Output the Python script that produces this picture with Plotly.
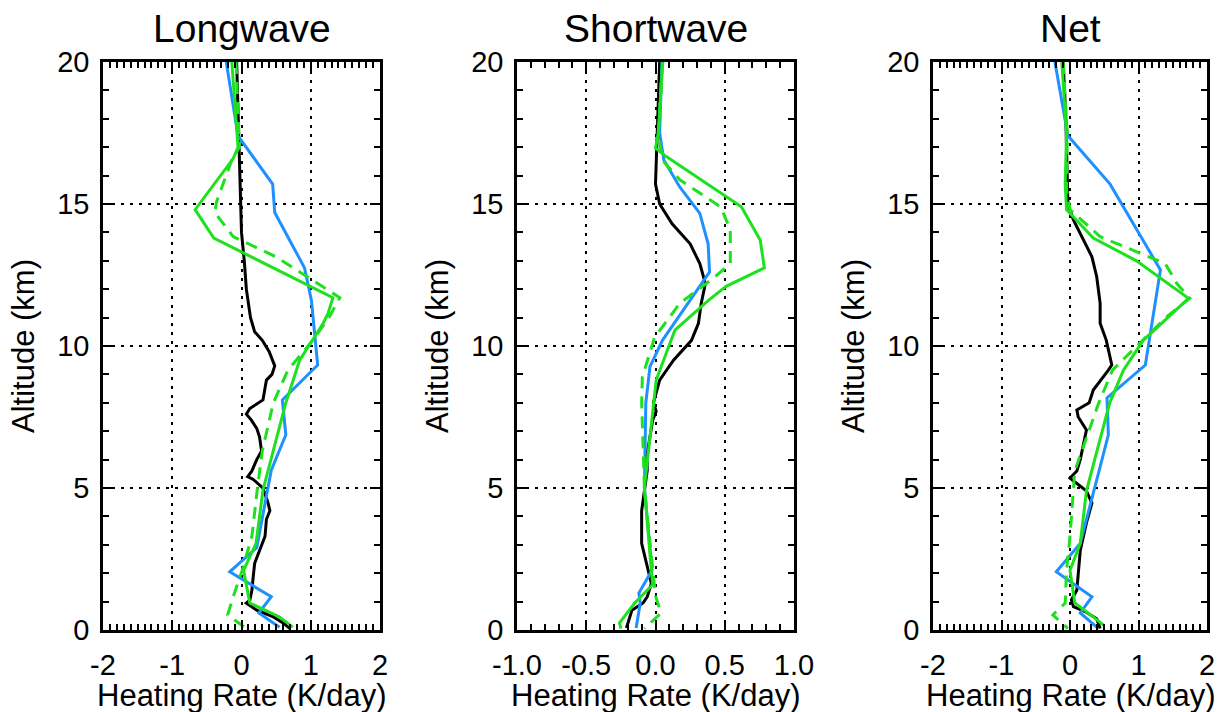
import plotly.graph_objects as go

# ---------------- data ----------------
panel_titles = ["Longwave", "Shortwave", "Net"]
x_label = "Heating Rate (K/day)"
y_label = "Altitude (km)"

x_ranges = [[-2, 2], [-1, 1], [-2, 2]]
x_tickvals = [[-2, -1, 0, 1, 2], [-1.0, -0.5, 0.0, 0.5, 1.0], [-2, -1, 0, 1, 2]]
x_ticktext = [["-2", "-1", "0", "1", "2"],
              ["-1.0", "-0.5", "0.0", "0.5", "1.0"],
              ["-2", "-1", "0", "1", "2"]]
y_tickvals = [0, 5, 10, 15, 20]
y_ticktext = ["0", "5", "10", "15", "20"]

# Longwave
lw_obs_alt = [20, 19, 18, 17, 16, 15, 14, 13, 12, 11, 10.5, 10.2, 9.8, 9.3, 9.0, 8.8, 8.4, 8.1, 7.8,
              7.6, 7.4, 7.1, 6.8, 6.3, 6.0, 5.6, 5.4, 5.3, 5.0, 4.5, 4.2, 3.9, 3.3, 2.8, 2.35, 1.9,
              1.4, 1.05, 0.95, 0.7, 0.46, 0.25, 0.05]
lw_obs_x = [-0.07, -0.06, -0.05, -0.04, -0.03, -0.02, 0.0, 0.04, 0.07, 0.13, 0.19, 0.30, 0.40, 0.48,
            0.44, 0.36, 0.33, 0.31, 0.12, 0.07, 0.14, 0.22, 0.26, 0.29, 0.22, 0.15, 0.09, 0.17, 0.31,
            0.38, 0.41, 0.36, 0.34, 0.26, 0.19, 0.17, 0.15, 0.12, 0.07, 0.22, 0.46, 0.60, 0.70]
lw_blue_alt = [20, 17.4, 15.7, 14.7, 12.75, 11.6, 9.33, 8.1, 6.87, 5.63, 2.9, 2.05, 1.17, 0.6, 0.1]
lw_blue_x = [-0.22, -0.05, 0.45, 0.48, 0.91, 1.01, 1.10, 0.59, 0.64, 0.43, 0.22, -0.17, 0.43, 0.25, 0.55]
lw_green_alt = [20, 17.0, 16.6, 14.8, 13.8, 11.7, 11.15, 10.8, 9.5, 8.0, 4.93, 3.05, 2.1, 0.95, 0.46, 0.1]
lw_green_x = [-0.14, -0.05, -0.12, -0.67, -0.40, 1.32, 1.25, 1.18, 0.84, 0.64, 0.31, 0.21, 0.03, 0.12, 0.55, 0.74]
lw_gdash_alt = [20, 17.0, 16.55, 15.08, 14.7, 13.85, 13.14, 11.7, 11.03, 10.2, 9.15, 8.0, 6.3, 5.0,
                3.3, 2.1, 1.17, 0.53, 0.05]
lw_gdash_x = [-0.08, -0.03, -0.14, -0.36, -0.385, -0.12, 0.50, 1.42, 1.27, 1.03, 0.67, 0.46, 0.30,
              0.23, 0.15, 0.01, -0.12, -0.20, 0.07]

# Shortwave
sw_obs_alt = [20, 18.5, 17.5, 16.5, 15.7, 15.0, 14.3, 13.6, 12.9, 12.2, 11.5, 10.8, 10.2, 9.5, 9.15,
              8.8, 8.0, 7.7, 7.4, 6.2, 5.6, 4.2, 3.05, 2.46, 1.64, 1.17, 0.95, 0.7, 0.42, 0.07]
sw_obs_x = [0.03, 0.02, 0.01, 0.005, 0.0, 0.03, 0.12, 0.25, 0.32, 0.36, 0.33, 0.31, 0.26, 0.13, 0.08,
            0.03, -0.015, 0.005, -0.02, -0.06, -0.06, -0.10, -0.10, -0.07, -0.03, -0.06, -0.09,
            -0.17, -0.19, -0.21]
sw_blue_alt = [20, 17.5, 16.55, 15.6, 14.67, 13.6, 12.6, 11.97, 11.27, 10.2, 9.27, 8.0, 5.0, 2.1, 1.3, 0.95, 0.07]
sw_blue_x = [0.046, 0.03, 0.06, 0.175, 0.32, 0.38, 0.39, 0.30, 0.20, 0.05, -0.04, -0.07, -0.08,
             -0.025, -0.12, -0.11, -0.14]
sw_green_alt = [20, 17.5, 16.97, 16.67, 14.9, 13.73, 12.75, 12.1, 11.6, 10.56, 8.8, 5.0, 2.1, 1.6, 0.95, 0.25, 0.05]
sw_green_x = [0.053, 0.02, 0.0, 0.078, 0.62, 0.756, 0.786, 0.51, 0.38, 0.14, 0.005, -0.08, -0.03,
              -0.02, -0.15, -0.26, -0.25]
sw_gdash_alt = [20, 17.5, 16.55, 15.85, 14.9, 14.1, 12.9, 12.4, 11.5, 10.3, 8.9, 8.0, 5.0, 2.1, 1.2, 0.6, 0.05]
sw_gdash_x = [0.05, 0.02, 0.05, 0.175, 0.47, 0.54, 0.54, 0.42, 0.175, -0.007, -0.095, -0.10, -0.08,
              -0.02, 0.0, 0.04, -0.08]

# Net
net_obs_alt = [20, 18, 16.9, 15.0, 14.44, 13.85, 13.14, 12.44, 11.5, 10.8, 10.2, 9.33, 9.15, 8.45,
               8.0, 7.75, 7.5, 7.04, 6.57, 6.0, 5.6, 5.35, 5.16, 4.9, 4.47, 3.77, 2.8, 2.1, 1.4,
               1.06, 0.82, 0.65, 0.4, 0.05]
net_obs_x = [-0.1, -0.06, -0.05, -0.03, 0.05, 0.17, 0.32, 0.39, 0.44, 0.44, 0.53, 0.61, 0.56, 0.34,
             0.28, 0.10, 0.12, 0.24, 0.20, 0.15, 0.10, 0.0, 0.10, 0.24, 0.32, 0.24, 0.15, 0.12, 0.10,
             0.02, 0.05, 0.22, 0.39, 0.44]
net_blue_alt = [20, 17.4, 15.7, 12.68, 9.33, 8.17, 6.87, 3.05, 2.05, 1.17, 0.6, 0.1]
net_blue_x = [-0.22, -0.03, 0.585, 1.32, 1.10, 0.54, 0.56, 0.15, -0.2, 0.32, 0.15, 0.39]
net_green_alt = [20, 17.5, 15.7, 14.8, 13.8, 13.0, 11.68, 10.2, 9.15, 8.0, 4.9, 3.05, 2.1, 0.95, 0.46, 0.17]
net_green_x = [-0.12, -0.05, -0.07, -0.05, 0.34, 0.97, 1.73, 1.07, 0.78, 0.58, 0.24, 0.15, 0.0, 0.07, 0.34, 0.49]
net_gdash_alt = [20, 17.5, 15.5, 14.8, 13.85, 12.9, 12.2, 11.68, 11.03, 9.86, 9.15, 8.0, 5.6, 3.3,
                 2.1, 0.95, 0.53, 0.05]
net_gdash_x = [-0.1, -0.04, -0.05, 0.0, 0.44, 1.39, 1.56, 1.75, 1.41, 0.92, 0.62, 0.42, 0.07, 0.0,
               -0.05, -0.07, -0.25, -0.03]

panels = [
    [(lw_obs_x, lw_obs_alt), (lw_blue_x, lw_blue_alt), (lw_green_x, lw_green_alt), (lw_gdash_x, lw_gdash_alt)],
    [(sw_obs_x, sw_obs_alt), (sw_blue_x, sw_blue_alt), (sw_green_x, sw_green_alt), (sw_gdash_x, sw_gdash_alt)],
    [(net_obs_x, net_obs_alt), (net_blue_x, net_blue_alt), (net_green_x, net_green_alt), (net_gdash_x, net_gdash_alt)],
]

# ---------------- styling ----------------
W, H = 1222, 712
FONT = "Liberation Sans, Arial, Helvetica, sans-serif"
BLACK = "#000000"
BLUE = "#1E90FF"
GREEN = "#1EE11E"
styles = [dict(color=BLACK, width=3, dash="solid"),
          dict(color=BLUE, width=3, dash="solid"),
          dict(color=GREEN, width=3, dash="solid"),
          dict(color=GREEN, width=3, dash="12px,8px")]

panel_px = [(103, 380), (517, 794), (933, 1207)]
top_px, bot_px = 62, 630
ydom = [1 - bot_px / H, 1 - top_px / H]

fig = go.Figure()
annotations = []
for i, series in enumerate(panels):
    ax = "" if i == 0 else str(i + 1)
    for (xs, ys), st in zip(series, styles):
        fig.add_trace(go.Scatter(x=xs, y=ys, mode="lines", line=st, showlegend=False,
                                 xaxis="x" + ax, yaxis="y" + ax, hoverinfo="skip"))
    l, r = panel_px[i]
    common = dict(showline=True, linecolor=BLACK, linewidth=2.5, mirror="allticks",
                  ticks="inside", ticklen=10, tickwidth=2, tickcolor=BLACK,
                  showgrid=True, gridcolor=BLACK, gridwidth=2.2, griddash="3px,6px",
                  zeroline=False, tickfont=dict(family=FONT, size=29, color=BLACK),
                  tickmode="array", fixedrange=True, automargin=False)
    fig.update_layout(**{
        "xaxis" + ax: dict(common, domain=[l / W, r / W], anchor="y" + ax, range=x_ranges[i],
                           tickvals=x_tickvals[i], ticktext=x_ticktext[i], ticklabelstandoff=7,
                           minor=dict(ticks="inside", ticklen=6, tickwidth=1.5, tickcolor=BLACK,
                                      tickmode="linear", tick0=0, dtick=0.1, showgrid=False)),
        "yaxis" + ax: dict(common, domain=ydom, anchor="x" + ax, range=[0, 20],
                           tickvals=y_tickvals, ticktext=y_ticktext, ticklabelstandoff=5,
                           minor=dict(ticks="inside", ticklen=6, tickwidth=1.5, tickcolor=BLACK,
                                      tickmode="linear", tick0=0, dtick=1, showgrid=False)),
    })
    xc = (l + r) / 2 / W
    annotations.append(dict(text=panel_titles[i], x=xc, y=1 - 28.5 / H, xref="paper", yref="paper",
                            xanchor="center", yanchor="middle", showarrow=False,
                            font=dict(family=FONT, size=39, color=BLACK)))
    annotations.append(dict(text=x_label, x=xc, y=1 - 695 / H, xref="paper", yref="paper",
                            xanchor="center", yanchor="middle", showarrow=False,
                            font=dict(family=FONT, size=31, color=BLACK)))
    annotations.append(dict(text=y_label, x=(l - 80) / W, y=1 - (top_px + bot_px) / 2 / H,
                            xref="paper", yref="paper", xanchor="center", yanchor="middle",
                            textangle=-90, showarrow=False,
                            font=dict(family=FONT, size=31, color=BLACK)))

fig.update_layout(width=W, height=H, margin=dict(l=0, r=0, t=0, b=0),
                  paper_bgcolor="white", plot_bgcolor="white", annotations=annotations,
                  showlegend=False)

fig.write_html("out.html", config={"displayModeBar": False},
               post_script="document.body.style.margin='0';document.body.style.overflow='hidden';")
